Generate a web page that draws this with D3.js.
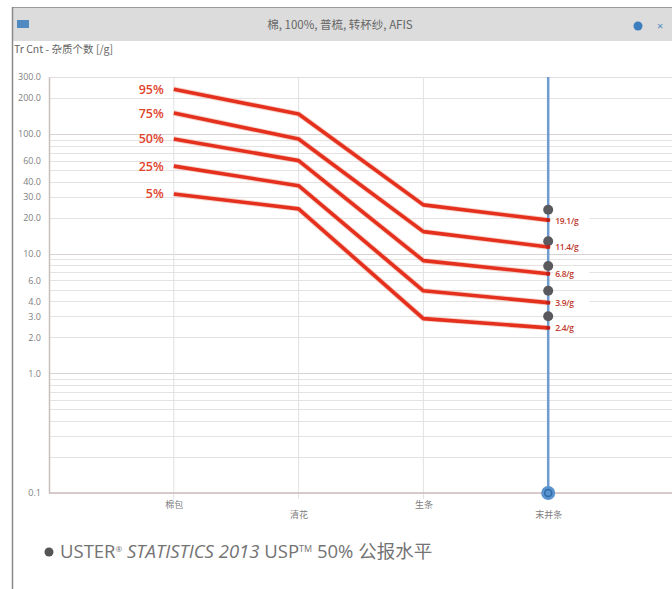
<!DOCTYPE html>
<html>
<head>
<meta charset="utf-8">
<script src="https://cdn.jsdelivr.net/npm/d3@7"></script>
<style>
  html, body { margin: 0; padding: 0; background: #fff; }
  svg { display: block; }
  text { font-family: "Open Sans", "Noto Sans", "Noto Sans CJK SC", sans-serif; }
  .cjk { font-family: "Noto Sans CJK SC", "Noto Sans", sans-serif; }
</style>
</head>
<body>
<svg id="chart" width="672" height="589"></svg>
<script>
// Processing stages along the spinning line
const stages = ["棉包", "清花", "生条", "末并条"];

// Trash count percentile curves (/g) at each stage
const p95 = [237, 147, 25.6, 19.1];
const p75 = [150, 91, 15.3, 11.4];
const p50 = [91, 60, 8.75, 6.8];
const p25 = [54, 37, 4.9, 3.9];
const p5  = [31.6, 23.7, 2.87, 2.4];
const seriesNames = ["95%", "75%", "50%", "25%", "5%"];

// Reported USP 50% levels at the final stage
const uspLevels = [23.3, 12.7, 7.9, 4.9, 3.0];

// Axis labels
const yTickLabels = [300, 200, 100, 60, 40, 30, 20, 10, 6, 4, 3, 2, 1, 0.1];
const yGridValues = [0.2,0.3,0.4,0.5,0.6,0.7,0.8,0.9,1,2,3,4,5,6,7,8,9,10,20,30,40,50,60,70,80,90,100,200,300];

const series = [p95, p75, p50, p25, p5];

const svg = d3.select("#chart");
const W = 672, H = 589;

// window frame
svg.append("rect").attr("x", 12).attr("y", 7).attr("width", W - 12).attr("height", 34).attr("fill", "#dcdcdc");
svg.append("line").attr("x1", 12).attr("x2", W).attr("y1", 7.5).attr("y2", 7.5).attr("stroke", "#9a9a9a");
svg.append("line").attr("x1", 12.5).attr("x2", 12.5).attr("y1", 7).attr("y2", H).attr("stroke", "#8a8a8a").attr("stroke-width", 1.5);
svg.append("rect").attr("x", 17).attr("y", 20).attr("width", 12).attr("height", 8).attr("fill", "#4f8ac0");
svg.append("circle").attr("cx", 638).attr("cy", 26).attr("r", 4.5).attr("fill", "#3d7fbe");
svg.append("text").attr("x", 657).attr("y", 30).attr("font-size", 11).attr("fill", "#4f8ac0").text("×");
svg.append("text").attr("class", "cjk").attr("x", 340).attr("y", 29).attr("text-anchor", "middle")
  .attr("font-size", 11.5).attr("fill", "#666").text("棉, 100%, 普梳, 转杯纱, AFIS");
svg.append("text").attr("class", "cjk").attr("x", 14).attr("y", 53)
  .attr("font-size", 10.5).attr("fill", "#666").text("Tr Cnt - 杂质个数 [/g]");

const plotLeft = 49, plotRight = 673, plotTop = 77, plotBottom = 493;

const y = d3.scaleLog().domain([0.1, 300]).range([plotBottom, plotTop]);
const x = d3.scalePoint().domain(stages).range([plotLeft, plotRight]).padding(1);

// horizontal grid
svg.append("g").selectAll("line").data(yGridValues).join("line")
  .attr("x1", plotLeft).attr("x2", W)
  .attr("y1", d => Math.round(y(d)) + 0.5).attr("y2", d => Math.round(y(d)) + 0.5)
  .attr("stroke", d => (Math.abs(Math.log10(d) % 1) < 1e-9) ? "#d8d2d2" : "#e6e2e2")
  .attr("stroke-width", 1);
svg.append("line").attr("x1", plotLeft).attr("x2", W).attr("y1", plotTop + 0.5).attr("y2", plotTop + 0.5).attr("stroke", "#e2dede");

// vertical grid at stages
svg.append("g").selectAll("line").data(stages).join("line")
  .attr("x1", d => x(d)).attr("x2", d => x(d)).attr("y1", plotTop).attr("y2", plotBottom + 6)
  .attr("stroke", "#e2e2e2");

// y axis
const yAxis = d3.axisLeft(y).tickValues(yTickLabels).tickSize(0).tickPadding(8)
  .tickFormat(d3.format(".1f"));
const ya = svg.append("g").attr("transform", `translate(${plotLeft},0)`).call(yAxis);
ya.select(".domain").attr("stroke", "#c9bebe").attr("stroke-width", 1.5);
ya.selectAll("text").attr("font-size", 9).attr("fill", "#808080").attr("font-family", "Open Sans, sans-serif");

// x axis
const xAxis = d3.axisBottom(x).tickSize(0).tickPadding(10);
const xa = svg.append("g").attr("transform", `translate(0,${plotBottom})`).call(xAxis);
xa.select(".domain").attr("stroke", "#cbb9b9").attr("stroke-width", 1.5).attr("d", `M${plotLeft},0H${W}`);
xa.selectAll("text").attr("class", "cjk").attr("font-size", 9).attr("fill", "#808080")
  .attr("dy", (d, i) => i % 2 ? "1.7em" : "0.5em");

const lastX = x(stages[stages.length - 1]);

// percentile lines
const line = d3.line().x((d, i) => x(stages[i])).y(d => y(d));
series.forEach((s, k) => {
  svg.append("path").attr("d", line(s)).attr("fill", "none")
    .attr("stroke", "#f0b0a4").attr("stroke-width", 5.5).attr("stroke-linejoin", "round").attr("opacity", 0.6);
  svg.append("path").attr("d", line(s)).attr("fill", "none")
    .attr("stroke", "#e4301c").attr("stroke-width", 3.6).attr("stroke-linejoin", "round");
  svg.append("text").attr("x", x(stages[0]) - 10).attr("y", y(s[0]) + 4.5)
    .attr("text-anchor", "end").attr("font-size", 12.5).attr("font-weight", 600)
    .attr("fill", "#e0442e").text(seriesNames[k]);
});

// selected stage marker line
svg.append("line").attr("x1", lastX).attr("x2", lastX).attr("y1", plotTop).attr("y2", plotBottom)
  .attr("stroke", "#6e9bd0").attr("stroke-width", 2.5);

// USP reported levels
svg.append("g").selectAll("circle").data(uspLevels).join("circle")
  .attr("cx", lastX).attr("cy", d => y(d)).attr("r", 5).attr("fill", "#5a5a5e");

// end points and value labels
series.forEach(s => {
  const v = s[s.length - 1];
  svg.append("rect").attr("x", lastX + 5).attr("y", y(v) - 6).attr("width", 36).attr("height", 12).attr("fill", "#fff");
  svg.append("circle").attr("cx", lastX).attr("cy", y(v)).attr("r", 2.2).attr("fill", "#c0201a");
  svg.append("text").attr("x", lastX + 7).attr("y", y(v) + 3.5)
    .attr("font-size", 8.5).attr("font-weight", 600).attr("letter-spacing", -0.3)
    .attr("fill", "#c0392b").text(v + "/g");
});

// selection handle
svg.append("circle").attr("cx", lastX).attr("cy", plotBottom).attr("r", 7).attr("fill", "#5b93cf");
svg.append("circle").attr("cx", lastX).attr("cy", plotBottom).attr("r", 3.5).attr("fill", "none")
  .attr("stroke", "#2f6aa8").attr("stroke-width", 1.5);

// legend
svg.append("circle").attr("cx", 49).attr("cy", 552).attr("r", 4.5).attr("fill", "#555");
const lg = svg.append("text").attr("x", 60).attr("y", 558).attr("font-size", 18.5).attr("fill", "#737373");
lg.append("tspan").text("USTER");
lg.append("tspan").attr("font-size", 8).attr("dy", -6).text("®");
lg.append("tspan").attr("dy", 6).attr("font-style", "italic").text(" STATISTICS 2013");
lg.append("tspan").text(" USP");
lg.append("tspan").attr("font-size", 9).attr("dy", -6).text("TM");
lg.append("tspan").attr("dy", 6).text(" 50% ");
lg.append("tspan").attr("class", "cjk").text("公报水平");
</script>
</body>
</html>
